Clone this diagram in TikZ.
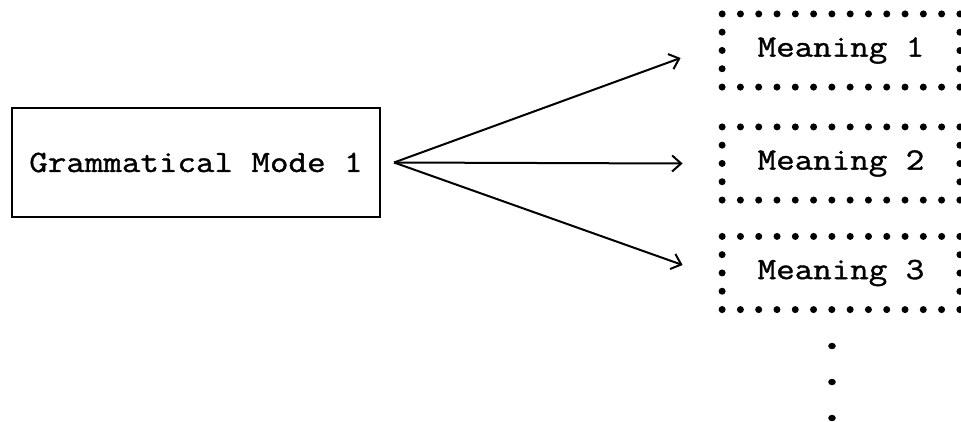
\documentclass[tikz,border=0pt]{standalone}
\usepackage{fontspec}
\setmonofont{Latin Modern Mono}[FakeStretch=1.16, FakeBold=1.2]
\usetikzlibrary{arrows.meta}
\begin{document}
\begin{tikzpicture}[x=1pt,y=-1pt,
  every node/.style={font=\ttfamily\fontsize{31}{37}\selectfont, inner sep=0pt},
  modebox/.style={draw, line width=2pt, minimum width=368pt, minimum height=109pt},
  meanbox/.style={draw, line width=7pt, line cap=round, dash pattern=on 0pt off 18.29pt,
                  minimum width=237.8pt, minimum height=73.16pt},
  conn/.style={line width=2pt, -{Straight Barb[length=9pt,width=16pt,line width=2pt]}},
  bigdot/.style={fill=black}
]
\useasboundingbox (0,0) rectangle (961,421);
\node[modebox] (gm) at (196,162.5) {Grammatical Mode 1};
\node[meanbox] (m1) at (841,50.5) {Meaning 1};
\node[meanbox] (m2) at (841,163.5) {Meaning 2};
\node[meanbox] (m3) at (841,273) {Meaning 3};
\draw[conn] ([xshift=13pt]gm.east) -- ([xshift=-38pt,yshift=-7.5pt]m1.west);
\draw[conn] ([xshift=13pt]gm.east) -- ([xshift=-36pt]m2.west);
\draw[conn] ([xshift=13pt]gm.east) -- ([xshift=-36pt,yshift=8pt]m3.west);
\fill[bigdot] (832,346) ellipse[x radius=3.8pt, y radius=3.2pt];
\fill[bigdot] (832,382) ellipse[x radius=3.8pt, y radius=3.2pt];
\fill[bigdot] (832,418) ellipse[x radius=3.8pt, y radius=3.2pt];
\end{tikzpicture}
\end{document}
